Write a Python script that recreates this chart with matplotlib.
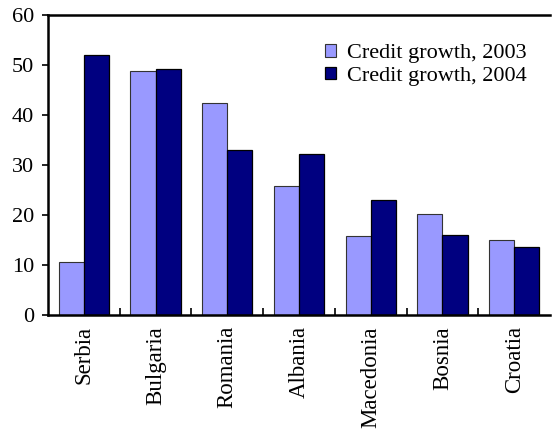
import numpy as np
import matplotlib
matplotlib.use('Agg')
import matplotlib.pyplot as plt

countries = ['Serbia', 'Bulgaria', 'Romania', 'Albania', 'Macedonia', 'Bosnia', 'Croatia']
growth_2003 = [10.7, 48.8, 42.5, 25.8, 15.9, 20.3, 15.1]
growth_2004 = [52.1, 49.3, 33.0, 32.2, 23.1, 16.0, 13.6]

plt.rcParams['font.family'] = ['Liberation Serif', 'DejaVu Serif']

fig = plt.figure(figsize=(5.52, 4.34), dpi=100)
ax = fig.add_axes([48 / 552, 1 - 315 / 434, 502 / 552, 300 / 434])

x = np.arange(len(countries))
w = 0.35
ax.bar(x - w / 2, growth_2003, w, color='#9999FF', edgecolor='#333333', linewidth=0.8,
       label='Credit growth, 2003')
ax.bar(x + w / 2, growth_2004, w, color='#000080', edgecolor='black', linewidth=0.9,
       label='Credit growth, 2004')

ax.set_xlim(-0.5, len(countries) - 0.5)
ax.set_ylim(0, 60)
ax.set_yticks(range(0, 61, 10))
ax.tick_params(axis='y', direction='out', length=4, width=1.2, labelsize=16, pad=6)

ax.set_xticks(x)
ax.set_xticklabels(countries, rotation=90, fontsize=16.5)
ax.tick_params(axis='x', length=0, pad=8)
# tick marks between the groups, pointing up
ax.set_xticks(x[:-1] + 0.5, minor=True)
ax.tick_params(axis='x', which='minor', direction='in', length=5, width=1.2)

for s in ['left', 'bottom', 'top']:
    ax.spines[s].set_linewidth(1.8)
ax.spines['right'].set_visible(False)

ax.legend(loc='upper right', bbox_to_anchor=(0.985, 0.955), frameon=False, fontsize=16,
          handlelength=0.5, handleheight=0.5, handletextpad=0.5, labelspacing=0.15,
          borderaxespad=0.3)

fig.savefig('out.png', dpi=100)
